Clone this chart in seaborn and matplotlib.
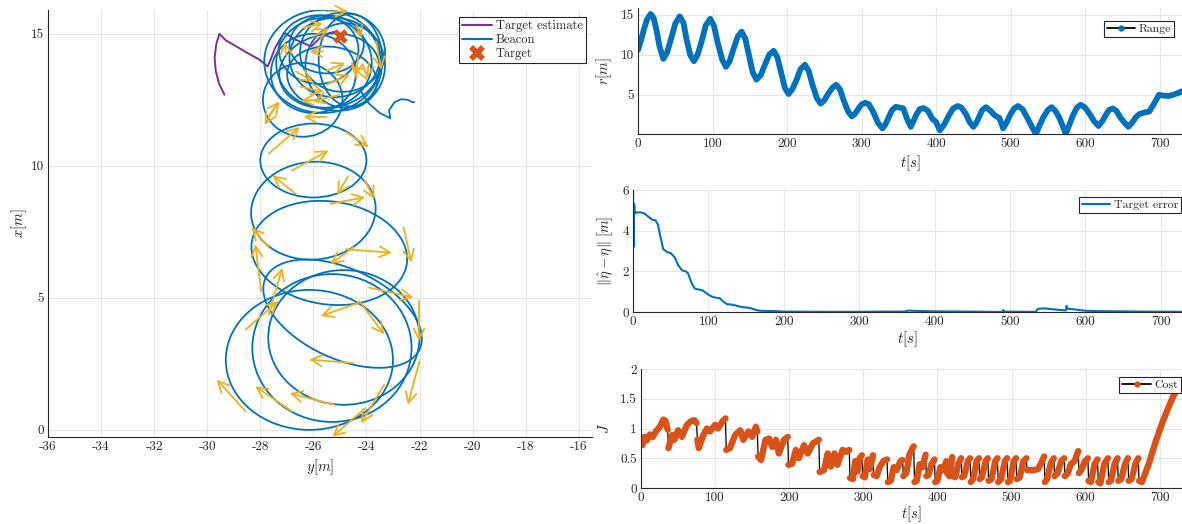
import numpy as np
import pandas as pd
import matplotlib
matplotlib.use("Agg")
import matplotlib.pyplot as plt
from matplotlib.patches import Ellipse
from matplotlib.lines import Line2D
from matplotlib.ticker import FuncFormatter
import seaborn as sns

# ---------------- data ----------------
# Beacon loops (ellipse approximations of each revolution): centre y, centre x, semi-axes, tilt
loop_cy = [-26.15, -25.3, -24.85, -24.9, -25.4, -26.0, -26.0, -26.4,
           -25.65, -25.6, -25.2, -25.4, -24.9, -25.8, -25.3, -24.8, -25.5, -26.0, -24.6]
loop_cx = [2.65, 3.1, 3.5, 4.4, 6.7, 8.3, 10.2, 12.5,
           13.95, 13.9, 14.1, 13.6, 14.3, 14.4, 13.3, 13.8, 14.6, 13.5, 14.0]
loop_ry = [3.15, 3.0, 2.85, 3.2, 2.95, 2.35, 2.0, 1.5,
           2.2, 1.8, 1.7, 1.9, 1.6, 1.5, 1.7, 1.5, 1.4, 1.6, 1.2]
loop_rx = [2.65, 2.8, 2.55, 1.7, 1.95, 1.85, 1.4, 1.4,
           1.95, 1.7, 1.5, 1.4, 1.5, 1.3, 1.2, 1.6, 1.1, 1.5, 1.75]
loop_ang = [0, 0, 0, -25, -8, 5, 0, 0,
            0, 0, 0, 10, 0, 0, -10, 0, 0, 0, 0]

# Beacon final tail
tail_y = [-24.2, -23.9, -23.5, -23.1, -23.15, -22.95, -22.7, -22.45, -22.25, -22.2]
tail_x = [12.8, 12.35, 12.0, 11.8, 12.1, 12.4, 12.52, 12.5, 12.4, 12.42]

# Target estimate path
est_y = [-29.35, -29.55, -29.68, -29.72, -29.66, -29.54, -29.3, -28.9, -28.5, -28.03,
         -27.72, -27.6, -27.45, -27.25, -27.09, -26.65, -26.08, -25.76, -25.39, -25.14,
         -25.01, -25.05]
est_x = [12.69, 13.1, 13.6, 14.1, 14.6, 15.0, 14.75, 14.52, 14.28, 14.02,
         13.76, 14.05, 14.45, 14.8, 15.03, 14.77, 14.52, 14.84, 15.03, 15.09,
         14.9, 14.98]

target_y = [-25.0]
target_x = [14.9]

# Quiver arrows: base (y, x) and components (dy, dx)
arr_y = [-22.0, -24.05, -23.33, -28.55, -26.81, -25.22, -24.49, -24.27, -24.27, -23.9,
         -22.6, -22.02, -24.78, -24.49, -27.68, -28.55, -27.97, -27.68, -25.36, -26.67,
         -24.7, -24.06, -26.81, -27.68, -24.78, -25.5,
         -25.51, -23.63, -25.77, -27.4, -27.02, -26.4, -25.64, -24.38, -25.51, -25.01,
         -26.65, -27.65, -24.0, -26.0, -24.3, -26.5, -25.5, -23.9]
arr_x = [2.6, 0.82, 1.71, 0.7, 0.7, 0.95, 2.53, 4.82, 4.88, 5.39,
         7.67, 4.88, 6.84, 6.91, 4.37, 3.8, 5.26, 6.91, 8.56, 8.94,
         9.6, 9.44, 9.82, 10.46, 11.28, 11.85,
         15.85, 14.71, 12.5, 12.31, 14.2, 15.22, 14.33, 15.34, 13.07, 12.69,
         13.57, 11.93, 13.3, 14.9, 14.2, 13.0, 13.6, 13.9]
arr_dy = [-0.44, -1.23, -0.87, -1.09, -1.38, -1.67, -1.67, -1.45, 0.94, 1.67,
          0.29, 0.0, 1.74, -0.87, 0.51, 1.23, -0.22, -0.65, 1.31, -0.87,
          -0.4, 0.36, 1.38, 1.16, 0.87, -0.87,
          0.82, 0.19, -0.69, -0.44, -0.07, 0.76, -0.5, 0.19, 0.88, -1.01,
          0.63, 0.37, -0.6, 0.6, -0.1, 0.9, 0.7, -0.1]
arr_dx = [-1.65, -1.08, -1.46, 1.2, 0.95, 0.44, 0.13, -0.51, -1.27, -0.38,
          -1.33, -1.52, -0.13, -0.63, 1.77, 1.08, 1.77, 0.76, 0.25, 0.7,
          -0.7, -0.7, 0.76, 1.01, -0.57, 0.0,
          0.0, -1.07, -0.04, -0.76, 0.51, 0.18, 0.0, -0.5, 0.38, -0.25,
          -0.38, 0.51, 0.5, 0.3, -0.8, -0.2, 0.3, -0.6]

# Range r(t)
range_t = [0, 4, 8, 12, 17, 21, 25, 29, 34, 39, 45, 50, 56, 61, 65, 70, 75, 80, 86, 91, 97,
           102, 107, 113, 118, 123, 128, 134, 139, 144, 149, 154, 159, 165, 170, 176, 182,
           187, 192, 197, 202, 207, 213, 218, 224, 229, 234, 240, 245, 250, 255, 261, 266,
           271, 276, 282, 287, 291, 296, 300, 305, 310, 316, 322, 328, 332, 337, 341, 346,
           351, 356, 361, 366, 370, 374, 378, 383, 389, 395, 400, 405, 411, 417, 423, 429,
           434, 440, 445, 450, 454, 458, 462, 467, 473, 479, 485, 490, 495, 500, 505, 510,
           516, 522, 528, 534, 539, 544, 550, 555, 560, 565, 570, 574, 579, 584, 589, 594,
           600, 606, 612, 618, 623, 628, 632, 637, 642, 647, 653, 658, 663, 668, 673, 680,
           686, 690, 695, 699, 705, 712, 718, 724, 730]
range_r = [10.6, 11.8, 13.2, 14.4, 15.1, 14.6, 13.0, 11.0, 9.5, 10.3, 12.2, 13.9, 14.8, 14.0,
           12.0, 10.0, 9.2, 10.0, 11.9, 13.7, 14.5, 13.6, 11.5, 9.4, 8.5, 9.2, 10.7, 12.3,
           12.9, 12.0, 9.9, 7.8, 6.9, 7.5, 8.7, 10.0, 10.5, 9.7, 7.8, 5.9, 5.1, 5.7, 6.9,
           8.2, 8.75, 8.0, 6.3, 4.6, 3.9, 4.3, 5.1, 5.9, 6.25, 5.7, 4.3, 2.9, 2.3, 2.6, 3.3,
           3.8, 4.0, 3.8, 2.8, 1.5, 0.8, 1.3, 2.3, 3.1, 3.5, 3.4, 3.3, 2.0, 1.0, 1.8, 2.6,
           3.2, 3.35, 3.0, 2.0, 1.6, 0.55, 1.3, 2.4, 3.3, 3.6, 3.4, 2.6, 1.6, 1.0, 1.5, 2.3,
           3.1, 3.45, 3.0, 2.4, 2.1, 0.8, 1.6, 2.6, 3.3, 3.6, 3.2, 2.2, 1.1, 0.1, 1.2, 2.2,
           3.1, 3.45, 3.0, 2.2, 1.1, 0.1, 1.3, 2.5, 3.4, 3.75, 3.4, 2.6, 1.7, 1.1, 1.7, 2.5,
           3.1, 3.3, 3.0, 2.2, 1.5, 1.0, 1.5, 2.2, 2.6, 2.8, 2.9, 3.5, 4.3, 5.0, 4.9, 4.85,
           5.0, 5.2, 5.45]

# Target error
err_t = [0, 0.8, 1.5, 2.5, 5, 10, 15, 20, 25, 30, 33, 37, 40, 45, 50, 55, 60, 65, 70, 73,
         78, 82, 88, 93, 100, 105, 110, 115, 120, 125, 130, 135, 140, 145, 150, 155, 160,
         165, 170, 180, 190, 200, 250, 300, 330, 360, 365, 370, 380, 400, 450, 490, 491,
         492, 520, 534, 537, 545, 560, 574, 575, 576, 585, 600, 620, 680, 730]
err_v = [6.0, 3.2, 5.3, 4.85, 4.9, 4.9, 4.85, 4.7, 4.55, 4.5, 4.3, 3.6, 3.1, 2.95, 2.9,
         2.7, 2.3, 2.05, 2.0, 1.9, 1.4, 1.15, 1.1, 1.05, 0.85, 0.75, 0.7, 0.68, 0.5, 0.38,
         0.37, 0.33, 0.28, 0.24, 0.22, 0.2, 0.14, 0.08, 0.06, 0.05, 0.04, 0.02, 0.01, 0.01,
         0.02, 0.02, 0.07, 0.06, 0.05, 0.03, 0.02, 0.0, 0.1, 0.02, 0.01, 0.01, 0.16, 0.18,
         0.12, 0.08, 0.3, 0.16, 0.13, 0.06, 0.04, 0.02, 0.01]

# Cost J(t)
cost_t = [0, 2, 5, 8, 12, 16, 20, 25, 30, 33, 36,
          37, 42, 45, 50, 55, 62, 67, 72, 75,
          76, 78, 84, 89, 93, 100, 104, 110, 114,
          115, 120, 127, 134, 138, 145, 150, 155, 157,
          158, 162, 168, 173, 177, 182, 186, 193, 198,
          199, 204, 209, 213, 220, 225, 232, 240,
          241, 247, 252, 256, 261, 265, 272, 277, 281,
          282, 286, 289, 292, 295, 298,
          299, 302, 306, 309, 313,
          314, 318, 322, 327, 332,
          333, 337, 341, 345, 350, 353,
          354, 358, 362, 366, 368,
          369, 372, 376, 380, 384,
          385, 388, 392, 396,
          397, 400, 404, 408, 412,
          413, 416, 420,
          421, 424, 428, 432,
          433, 436, 441, 444,
          445, 448, 453, 456,
          457, 460, 465, 468,
          469, 473, 478, 481,
          482, 486, 491, 494,
          495, 498, 503, 506,
          507, 511, 516, 520,
          521, 530, 536, 540, 544,
          545, 548, 553, 557,
          558, 562, 567, 571,
          572, 576, 580, 585, 590,
          591, 594, 599, 603,
          604, 607, 612, 616,
          617, 620, 625, 630,
          631, 634, 639, 643,
          644, 648, 653, 657,
          658, 662, 667, 671,
          672, 676, 685, 695, 705, 715, 725, 730]
cost_j = [0.78, 0.72, 0.86, 0.80, 0.90, 0.86, 0.95, 1.02, 1.15, 1.13, 0.98,
          0.67, 0.89, 0.81, 0.97, 0.86, 1.06, 1.12, 1.14, 1.09,
          0.81, 0.67, 0.89, 1.0, 0.95, 1.06, 1.0, 1.12, 1.17,
          0.64, 0.67, 0.89, 0.97, 0.81, 0.95, 0.86, 1.03, 0.95,
          0.53, 0.47, 0.81, 0.83, 0.69, 0.81, 0.58, 0.81, 0.86,
          0.39, 0.41, 0.64, 0.5, 0.72, 0.58, 0.75, 0.81,
          0.27, 0.3, 0.58, 0.36, 0.58, 0.39, 0.64, 0.61, 0.64,
          0.17, 0.15, 0.45, 0.28, 0.5, 0.55,
          0.2, 0.18, 0.48, 0.32, 0.55,
          0.22, 0.2, 0.35, 0.45, 0.48,
          0.1, 0.12, 0.35, 0.3, 0.45, 0.47,
          0.2, 0.25, 0.55, 0.66, 0.7,
          0.1, 0.12, 0.4, 0.35, 0.56,
          0.2, 0.22, 0.4, 0.48,
          0.1, 0.12, 0.35, 0.3, 0.45,
          0.25, 0.2, 0.52,
          0.2, 0.18, 0.4, 0.5,
          0.18, 0.2, 0.45, 0.5,
          0.1, 0.15, 0.45, 0.5,
          0.15, 0.18, 0.45, 0.5,
          0.12, 0.15, 0.45, 0.5,
          0.1, 0.15, 0.45, 0.5,
          0.1, 0.12, 0.45, 0.5,
          0.15, 0.18, 0.45, 0.5,
          0.3, 0.3, 0.32, 0.42, 0.53,
          0.1, 0.15, 0.42, 0.5,
          0.2, 0.25, 0.45, 0.5,
          0.2, 0.25, 0.4, 0.45, 0.62,
          0.25, 0.3, 0.45, 0.5,
          0.12, 0.1, 0.4, 0.48,
          0.1, 0.08, 0.4, 0.5,
          0.1, 0.12, 0.4, 0.5,
          0.12, 0.15, 0.4, 0.5,
          0.12, 0.15, 0.4, 0.5,
          0.12, 0.1, 0.4, 0.8, 1.15, 1.45, 1.72, 1.82]
# times at which the optimisation cost is reset (start of each tooth)
cost_resets = [37, 76, 115, 158, 199, 241, 282, 299, 314, 333, 354, 369, 385, 397, 413,
               421, 433, 445, 457, 469, 482, 495, 507, 521, 545, 558, 572, 591, 604, 617,
               631, 644, 658, 672]

# ---------------- style ----------------
BLUE = "#0072BD"
ORANGE = "#D95319"
YELLOW = "#EDB120"
PURPLE = "#7E2F8E"
DARK = "#262626"
GRID = "#e6e6e6"

sns.set_style("white")
plt.rcParams.update({
    "font.family": ["cmr10", "DejaVu Serif"],
    "mathtext.fontset": "cm",
    "axes.unicode_minus": False,
    "axes.formatter.use_mathtext": False,
})

W, H = 1182, 524
fig = plt.figure(figsize=(W / 100, H / 100), dpi=100)


def px_axes(l, t, r, b):
    return fig.add_axes([l / W, 1 - b / H, (r - l) / W, (b - t) / H])


def style(ax):
    for s in ["top", "right"]:
        ax.spines[s].set_visible(False)
    for s in ["left", "bottom"]:
        ax.spines[s].set_color(DARK)
        ax.spines[s].set_linewidth(0.8)
    ax.grid(True, color=GRID, lw=0.8)
    ax.set_axisbelow(True)
    ax.tick_params(direction="in", length=3, width=0.8, colors=DARK,
                   labelsize=9.5, pad=3)


def legend(ax, handles, labels, x, y, fs):
    leg = ax.legend(handles, labels, loc="upper right",
                    bbox_to_anchor=(x / W, 1 - y / H), bbox_transform=fig.transFigure,
                    borderaxespad=0, fontsize=fs, frameon=True, fancybox=False,
                    framealpha=1, edgecolor=DARK, borderpad=0.25, labelspacing=0.15,
                    handlelength=2.4, handletextpad=0.3)
    leg.get_frame().set_linewidth(0.8)
    return leg


# ---------------- left: trajectory ----------------
ax = px_axes(48, 10, 592, 437)
style(ax)
sns.lineplot(x=est_y, y=est_x, sort=False, estimator=None, color=PURPLE, lw=1.4, ax=ax)
for cy, cx, ry, rx, a in zip(loop_cy, loop_cx, loop_ry, loop_rx, loop_ang):
    ax.add_patch(Ellipse((cy, cx), 2 * ry, 2 * rx, angle=a, fill=False,
                         ec=BLUE, lw=1.3, zorder=2))
sns.lineplot(x=tail_y, y=tail_x, sort=False, estimator=None, color=BLUE, lw=1.3, ax=ax)
for y0, x0, dy, dx in zip(arr_y, arr_x, arr_dy, arr_dx):
    ax.annotate("", xy=(y0 + dy, x0 + dx), xytext=(y0, x0),
                arrowprops=dict(arrowstyle="->,head_length=0.55,head_width=0.28",
                                color=YELLOW, lw=1.3, shrinkA=0, shrinkB=0,
                                mutation_scale=14), zorder=3)
sns.scatterplot(x=target_y, y=target_x, marker="X", s=110, color=ORANGE,
                linewidth=0, ax=ax, zorder=4)
ax.set_xlim(-36, -15.5)
ax.set_ylim(-0.27, 15.9)
ax.set_xticks(np.arange(-36, -15, 2))
ax.set_yticks([0, 5, 10, 15])
ax.set_xlabel("$y[m]$", fontsize=10.5, color=DARK, labelpad=3)
ax.set_ylabel("$x[m]$", fontsize=10.5, color=DARK, labelpad=1)
h_left = [Line2D([], [], color=PURPLE, lw=1.5),
          Line2D([], [], color=BLUE, lw=1.5),
          Line2D([], [], color=ORANGE, marker="X", ms=11, ls="none", mew=0)]
legend(ax, h_left, ["Target estimate", "Beacon", "Target"], 586, 17, 9)

# ---------------- right top: range ----------------
ax1 = px_axes(638, 8, 1182, 134)
style(ax1)
sns.lineplot(x=range_t, y=range_r, estimator=None, color=BLUE, lw=4.2,
             solid_capstyle="round", solid_joinstyle="round", ax=ax1)
ax1.set_xlim(0, 730)
ax1.set_ylim(0.1, 15.85)
ax1.set_xticks(np.arange(0, 701, 100))
ax1.set_yticks([5, 10, 15])
ax1.set_xlabel("$t[s]$", fontsize=10.5, color=DARK, labelpad=2)
ax1.set_ylabel("$r[m]$", fontsize=10.5, color=DARK, labelpad=5)
legend(ax1, [Line2D([], [], color="black", lw=1.3, marker="o", ms=3.5,
                    mfc=BLUE, mec=BLUE)], ["Range"], 1174, 21, 8.5)

# ---------------- right middle: target error ----------------
ax2 = px_axes(633, 190, 1182, 312)
style(ax2)
sns.lineplot(x=err_t, y=err_v, sort=False, estimator=None, color=BLUE, lw=1.5, ax=ax2)
ax2.set_xlim(0, 728)
ax2.set_ylim(0, 6)
ax2.set_xticks(np.arange(0, 701, 100))
ax2.set_yticks([0, 2, 4, 6])
ax2.set_xlabel("$t[s]$", fontsize=10.5, color=DARK, labelpad=1)
ax2.set_ylabel(r"$\|\hat{\eta}-\eta\|\;[m]$", fontsize=10.5, color=DARK, labelpad=5)
legend(ax2, [Line2D([], [], color=BLUE, lw=1.5)], ["Target error"], 1181, 197, 8.5)

# ---------------- right bottom: cost ----------------
ax3 = px_axes(641, 369, 1182, 488)
style(ax3)
cost_df = pd.DataFrame({"t": cost_t, "J": cost_j})
cost_df["seg"] = np.searchsorted(np.array(cost_resets), cost_df["t"].values, side="right")
sns.lineplot(data=cost_df, x="t", y="J", sort=False, estimator=None,
             color="black", lw=0.9, ax=ax3)
sns.lineplot(data=cost_df, x="t", y="J", units="seg", sort=False, estimator=None,
             color=ORANGE, lw=4.6, solid_capstyle="round", solid_joinstyle="round",
             ax=ax3)
ax3.set_xlim(0, 730)
ax3.set_ylim(0, 2)
ax3.set_xticks(np.arange(0, 701, 100))
ax3.set_yticks([0, 0.5, 1, 1.5, 2])
ax3.yaxis.set_major_formatter(FuncFormatter(lambda v, p: f"{v:g}"))
ax3.set_xlabel("$t[s]$", fontsize=10.5, color=DARK, labelpad=0)
ax3.set_ylabel("$J$", fontsize=10.5, color=DARK, labelpad=6)
legend(ax3, [Line2D([], [], color="black", lw=1.3, marker="o", ms=3.5,
                    mfc=ORANGE, mec=ORANGE)], ["Cost"], 1181, 377, 8.5)

fig.savefig("out.png", dpi=100)
